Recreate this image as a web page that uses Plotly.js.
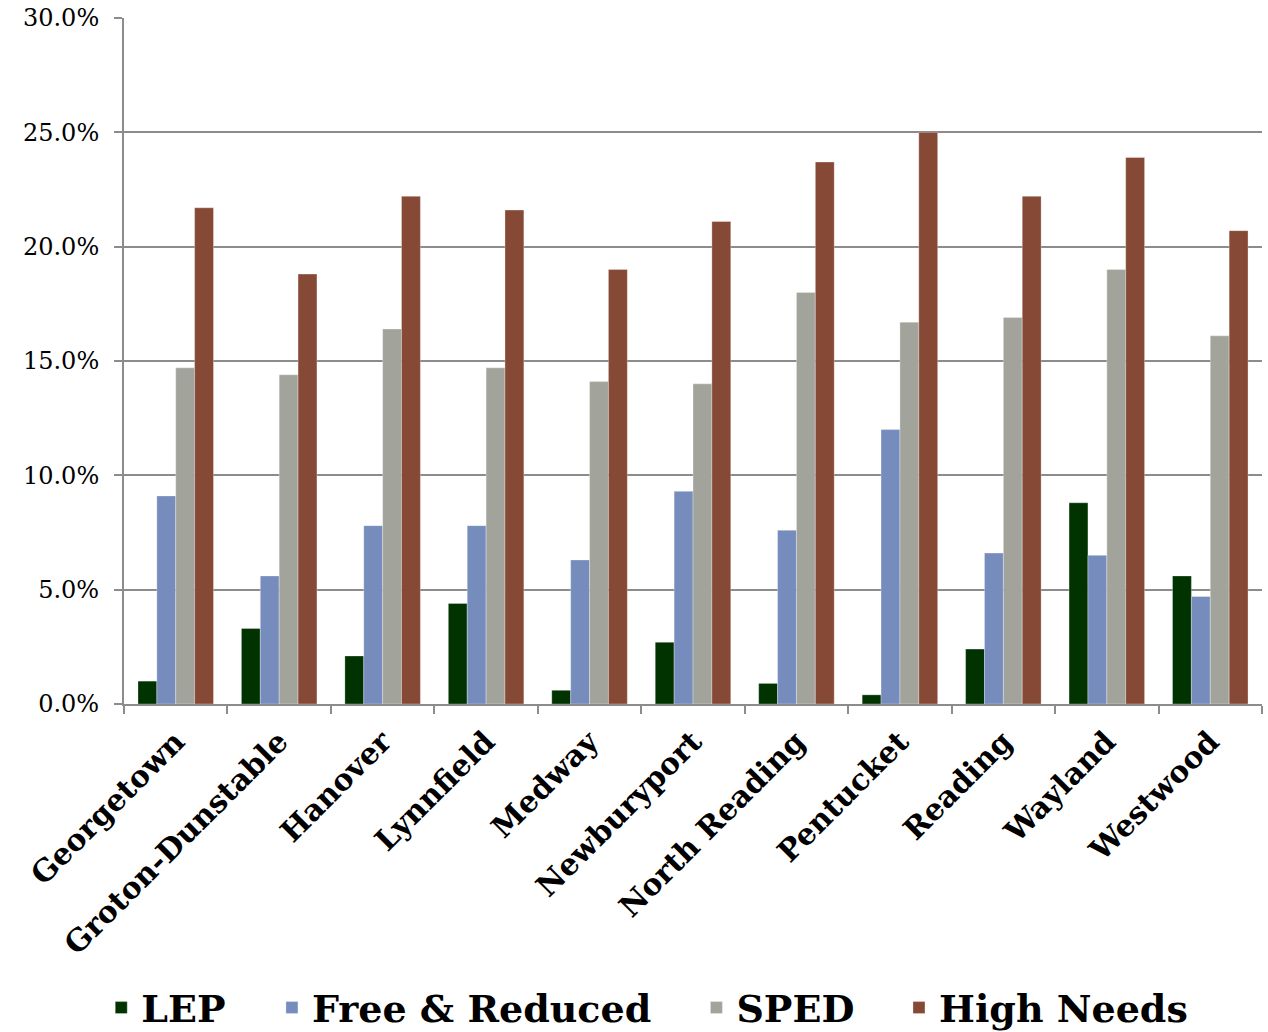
<!DOCTYPE html>
<html>
<head>
<meta charset="utf-8">
<script src="https://cdn.plot.ly/plotly-3.0.1.min.js"></script>
<style>html,body{margin:0;padding:0;background:#fff;}#chart{width:1268px;height:1032px;}</style>
</head>
<body>
<div id="chart"></div>
<script>
var districts = ["Georgetown","Groton-Dunstable","Hanover","Lynnfield","Medway","Newburyport","North Reading","Pentucket","Reading","Wayland","Westwood"];
var lep = [1.0, 3.3, 2.1, 4.4, 0.6, 2.7, 0.9, 0.4, 2.4, 8.8, 5.6];
var freeReduced = [9.1, 5.6, 7.8, 7.8, 6.3, 9.3, 7.6, 12.0, 6.6, 6.5, 4.7];
var sped = [14.7, 14.4, 16.4, 14.7, 14.1, 14.0, 18.0, 16.7, 16.9, 19.0, 16.1];
var highNeeds = [21.7, 18.8, 22.2, 21.6, 19.0, 21.1, 23.7, 25.0, 22.2, 23.9, 20.7];
var seriesNames = ["LEP","Free & Reduced","SPED","High Needs"];
var seriesColors = ["#013301","#768cbd","#a2a49c","#864936"];
var seriesData = [lep, freeReduced, sped, highNeeds];
var legendIds = ["legend","legend2","legend3","legend4"];
var legendX = [-0.020, 0.130, 0.503, 0.681];

var traces = seriesData.map(function(vals, i){
  return {
    type: "bar",
    name: seriesNames[i],
    legend: legendIds[i],
    x: districts,
    y: vals,
    marker: {color: seriesColors[i], line: {color: "rgba(255,255,255,0.6)", width: 0.5}},
    hoverinfo: "x+y+name"
  };
});

var serif = "DejaVu Serif, Liberation Serif, serif";
var layout = {
  width: 1268, height: 1032,
  margin: {l: 124, r: 6, t: 18, b: 328, autoexpand: false},
  paper_bgcolor: "#ffffff",
  plot_bgcolor: "#ffffff",
  barmode: "group",
  bargap: 0.27,
  bargroupgap: 0,
  showlegend: true,
  xaxis: {
    type: "category",
    tickangle: -45,
    tickfont: {family: serif, size: 30, color: "#000", weight: "bold"},
    ticklabelstandoff: 6,
    showline: true, linecolor: "#8c8c8c", linewidth: 2,
    ticks: "outside", tickson: "boundaries", ticklen: 8, tickcolor: "#8c8c8c", tickwidth: 2,
    showgrid: false,
    automargin: false
  },
  yaxis: {
    range: [0, 30],
    dtick: 5,
    tickformat: ".1f",
    ticksuffix: "%",
    tickfont: {family: serif, size: 24, color: "#000"},
    ticklabelstandoff: 10,
    showline: true, linecolor: "#8c8c8c", linewidth: 2,
    ticks: "outside", ticklen: 8, tickcolor: "#8c8c8c", tickwidth: 2,
    showgrid: true, gridcolor: "#8c8c8c", gridwidth: 2,
    zeroline: false,
    automargin: false
  }
};
legendIds.forEach(function(id, i){
  layout[id] = {
    orientation: "h",
    x: legendX[i], xanchor: "left",
    y: -0.443, yanchor: "middle",
    font: {family: serif, size: 38, color: "#000", weight: "bold"},
    itemwidth: 30,
    bgcolor: "rgba(0,0,0,0)"
  };
});

Plotly.newPlot("chart", traces, layout, {displayModeBar: false, staticPlot: true});
</script>
</body>
</html>
